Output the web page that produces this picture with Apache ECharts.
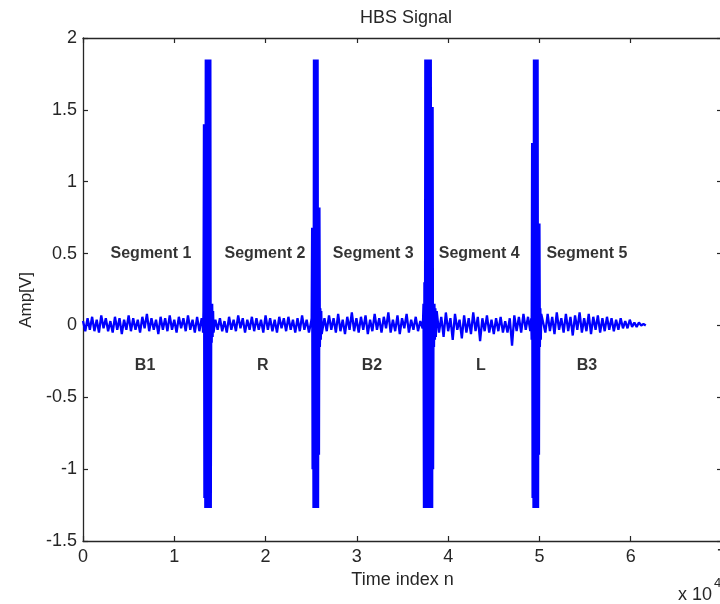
<!DOCTYPE html>
<html>
<head>
<meta charset="utf-8">
<script src="https://cdn.jsdelivr.net/npm/echarts@6/dist/echarts.min.js"></script>
<style>html,body{margin:0;padding:0;background:#fff}#c{width:720px;height:604px}</style>
</head>
<body>
<div id="c"></div>
<script>
// ---- data: HBS signal, time index n (samples), amplitude [V] ----
const noiseStep = 250;   // samples between noise values
const burstStep = 50;    // samples between burst values

const seg1Start = 0;
const seg1 = [0.03,-0.04,0.05,-0.03,0.06,-0.04,0.04,-0.05,0.07,-0.02,0.05,-0.04,0.03,-0.05,0.06,-0.03,0.05,-0.06,0.04,-0.03,
  0.07,-0.04,0.05,-0.03,0.04,-0.05,0.06,-0.02,0.08,-0.04,0.05,-0.03,0.04,-0.06,0.06,-0.03,0.05,-0.04,0.07,-0.03,
  0.04,-0.05,0.06,-0.02,0.05,-0.04,0.07,-0.03,0.04,-0.05,0.06,-0.04,0.05];
const burst1Start = 13100;
const burst1 = [0.02,-0.05,0.1,1.40,-1.2,1.40,-1.27,1.85,-1.27,1.85,-1.27,1.85,-1.27,1.85,-1.27,1.85,-1.27,1.85,-1.27,0.15,-0.12,0.15,-0.08,0.1,-0.05];

const seg2Start = 14500;
const seg2 = [0.04,-0.03,0.05,-0.04,0.03,-0.05,0.06,-0.03,0.04,-0.04,0.07,-0.02,0.05,-0.05,0.04,-0.03,0.06,-0.04,0.05,-0.03,
  0.04,-0.05,0.07,-0.03,0.05,-0.04,0.04,-0.05,0.06,-0.02,0.05,-0.04,0.06,-0.03,0.04,-0.05,0.05,-0.04,0.07,-0.03,
  0.04,-0.05,0.03];
const burst2Start = 25050;
const burst2 = [0.05,0.68,-1.0,0.68,-1.27,1.85,-1.27,1.85,-1.27,1.85,-1.27,1.85,-1.27,1.85,-1.27,0.82,-0.9,0.82,-0.15,0.12,-0.1,0.1,-0.06];

const seg3Start = 26450;
const seg3 = [0.05,-0.04,0.07,-0.03,0.05,-0.05,0.08,-0.04,0.04,-0.06,0.06,-0.03,0.09,-0.04,0.05,-0.05,0.06,-0.03,0.07,-0.06,
  0.04,-0.04,0.08,-0.03,0.05,-0.05,0.06,-0.02,0.09,-0.05,0.04,-0.04,0.07,-0.06,0.05,-0.02,0.08,-0.05,0.04,-0.03,
  0.06,-0.04,0.03,-0.02];
const burst3Start = 37250;
const burst3 = [0.03,0.15,-1.27,0.3,-1.27,1.85,-1.27,1.85,-1.27,1.85,-1.27,1.85,-1.27,1.85,-1.27,1.85,-1.27,1.85,-1.27,1.52,-1.27,1.52,-1.0,0.15,-0.15,0.15,-0.1,0.12,-0.08];

const seg4Start = 38750;
const seg4 = [0.10,-0.05,0.06,-0.08,0.09,-0.04,0.05,-0.10,0.08,-0.03,0.04,-0.09,0.07,-0.05,0.05,-0.06,0.09,-0.04,0.06,-0.11,
  0.05,-0.04,0.07,-0.05,0.04,-0.06,0.05,-0.04,0.06,-0.05,0.03,-0.05,0.05,-0.14,0.07,-0.04,0.06,-0.05,0.08,-0.03,
  0.06,-0.04];
const burst4Start = 49100;
const burst4 = [0.05,-0.1,1.27,-1.2,1.27,-1.27,1.85,-1.27,1.85,-1.27,1.85,-1.27,1.85,-1.27,1.85,-1.27,0.71,-0.9,0.71,-0.15,0.12,-0.1,0.08];

const seg5Start = 50400;
const seg5 = [0.07,-0.05,0.08,-0.04,0.06,-0.06,0.09,-0.03,0.05,-0.05,0.08,-0.04,0.06,-0.07,0.07,-0.03,0.09,-0.05,0.05,-0.04,
  0.08,-0.06,0.06,-0.03,0.07,-0.05,0.05,-0.04,0.06,-0.03,0.05,-0.04,0.04,-0.03,0.05,-0.02,0.03,-0.02,0.04,-0.01,
  0.02,-0.01,0.02,0.0,0.01,0.0];

const segLabels = ['Segment 1','Segment 2','Segment 3','Segment 4','Segment 5'];
const segLabelX = [7450, 19930, 31800, 43400, 55200];
const segLabelY = 0.5;
const bandLabels = ['B1','R','B2','L','B3'];
const bandLabelX = [6800, 19700, 31650, 43600, 55200];
const bandLabelY = -0.28;

const xTickValues = [0,1,2,3,4,5,6,7];       // x 10^4
const yTickValues = [-1.5,-1,-0.5,0,0.5,1,1.5,2];

// ---- build series points ----
const pieces = [
  [seg1Start, noiseStep, seg1], [burst1Start, burstStep, burst1],
  [seg2Start, noiseStep, seg2], [burst2Start, burstStep, burst2],
  [seg3Start, noiseStep, seg3], [burst3Start, burstStep, burst3],
  [seg4Start, noiseStep, seg4], [burst4Start, burstStep, burst4],
  [seg5Start, noiseStep, seg5]
];
const signal = [];
pieces.forEach(([s, st, vals]) => vals.forEach((v, i) => signal.push([s + i * st, v])));

const font = "'Liberation Sans', Arial, sans-serif";
const txt = '#262626';
const chart = echarts.init(document.getElementById('c'), null, {renderer: 'canvas'});
const axisLine = {show: true, onZero: false, lineStyle: {color: '#262626', width: 1.3}};
const tick = {inside: true, length: 5, lineStyle: {color: '#262626', width: 1.2}};
const annLabel = {show: true, position: 'inside', formatter: p => p.name,
  fontFamily: font, fontSize: 16, fontWeight: 'bold', color: '#000',
  textBorderWidth: 0, textShadowBlur: 0};
chart.setOption({
  animation: false,
  backgroundColor: '#fff',
  title: {text: 'HBS Signal', left: 401, top: 4, textAlign: 'center',
    textStyle: {fontFamily: font, fontSize: 18, fontWeight: 'normal', color: txt}},
  grid: {left: 83, top: 38, width: 639, bottom: 63, outerBoundsMode: 'none', containLabel: false},
  xAxis: [{
    type: 'value', min: 0, max: 70000, interval: 10000, position: 'bottom',
    axisLine, splitLine: {show: false}, axisTick: tick,
    axisLabel: {fontFamily: font, fontSize: 18, color: txt, margin: 7,
      formatter: v => String(xTickValues[Math.round(v / 10000)])},
    name: 'Time index n', nameLocation: 'middle', nameGap: 30,
    nameTextStyle: {fontFamily: font, fontSize: 18, color: txt}
  }, {
    type: 'value', min: 0, max: 70000, interval: 10000, position: 'top',
    axisLine, splitLine: {show: false}, axisLabel: {show: false}, axisTick: tick
  }],
  yAxis: [{
    type: 'value', min: -1.5, max: 2, interval: 0.5, position: 'left',
    axisLine, splitLine: {show: false}, axisTick: tick,
    axisLabel: {fontFamily: font, fontSize: 18, color: txt, margin: 6,
      formatter: v => String(yTickValues[Math.round((v + 1.5) / 0.5)])}
  }, {
    type: 'value', min: -1.5, max: 2, interval: 0.5, position: 'right',
    axisLine, splitLine: {show: false}, axisLabel: {show: false}, axisTick: tick
  }],
  graphic: [
    {type: 'text', x: 26, y: 300, rotation: Math.PI / 2,
      style: {text: 'Amp[V]', font: "17px 'Liberation Sans', Arial, sans-serif", fill: txt, align: 'center', verticalAlign: 'middle'}},
    {type: 'text', x: 678, y: 586,
      style: {text: 'x 10', font: "18px 'Liberation Sans', Arial, sans-serif", fill: txt}},
    {type: 'text', x: 714, y: 577,
      style: {text: '4', font: "13px 'Liberation Sans', Arial, sans-serif", fill: txt}}
  ],
  series: [{
    type: 'line', data: signal, showSymbol: false, symbol: 'none',
    sampling: null, lineStyle: {color: '#0000ff', width: 2.3}, z: 2
  }, {
    type: 'scatter', symbolSize: 1, itemStyle: {color: 'rgba(0,0,0,0)'}, silent: true,
    data: segLabels.map((n, i) => ({name: n, value: [segLabelX[i], segLabelY]})),
    label: annLabel, z: 3
  }, {
    type: 'scatter', symbolSize: 1, itemStyle: {color: 'rgba(0,0,0,0)'}, silent: true,
    data: bandLabels.map((n, i) => ({name: n, value: [bandLabelX[i], bandLabelY]})),
    label: annLabel, z: 3
  }]
});
</script>
</body>
</html>
